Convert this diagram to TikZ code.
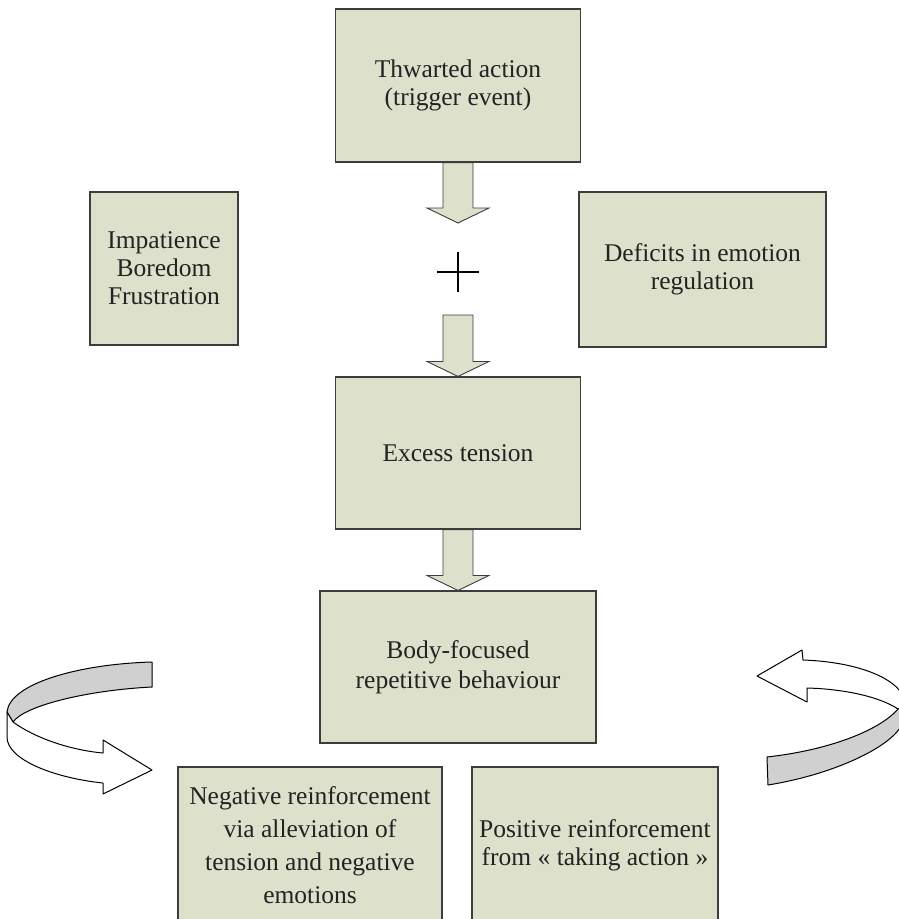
\documentclass[tikz,border=0pt]{standalone}
\usepackage{fontspec}
\setmainfont{Liberation Serif}
\usetikzlibrary{calc}
\definecolor{boxfill}{RGB}{221,224,203}
\definecolor{boxline}{RGB}{60,60,60}
\definecolor{txt}{RGB}{35,35,35}
\definecolor{bandgray}{RGB}{208,208,208}
\newcommand\blockarrow[2]{\draw[blockarr] let \p1=(#1), \p2=(#2) in
  (\x1-15pt,\y1) -- (\x1-15pt,\y2+15pt) -- (\x1-31pt,\y2+15pt) -- (\x2,\y2) --
  (\x1+31pt,\y2+15pt) -- (\x1+15pt,\y2+15pt) -- (\x1+15pt,\y1) -- cycle;}
\begin{document}
\begin{tikzpicture}[x=1pt,y=-1pt,
  box/.style={draw=boxline, line width=1.1pt, fill=boxfill, text=txt, align=center,
    inner sep=0pt, font=\fontsize{25.5}{28}\selectfont},
  blockarr/.style={draw=boxline, line width=0.9pt, fill=boxfill, line join=miter},
  bandline/.style={draw=black, line width=1pt, line join=round}]
\useasboundingbox (0,0) rectangle (898,919);

% boxes
\node[box, minimum width=245pt, minimum height=153pt] (thw) at (458,85.5) {Thwarted action\\(trigger event)};
\node[box, minimum width=148pt, minimum height=153pt] (imp) at (164,268.5) {Impatience\\Boredom\\Frustration};
\node[box, minimum width=247pt, minimum height=155pt] (def) at (702.5,269.5) {Deficits in emotion\\regulation};
\node[box, minimum width=245pt, minimum height=152pt] (exc) at (458,453) {Excess tension};
\node[box, minimum width=276pt, minimum height=152pt, font=\fontsize{25.5}{30}\selectfont] (body) at (458,667) {Body-focused\\repetitive behaviour};
\node[box, minimum width=264pt, minimum height=156pt, font=\fontsize{25.5}{33}\selectfont] (neg) at (310,845) {Negative reinforcement\\via alleviation of\\tension and negative\\emotions};
\node[box, minimum width=246pt, minimum height=156pt] (pos) at (595,845) {Positive reinforcement\\from «~taking action~»};

% plus sign and block arrows
\coordinate (plusc) at (458,272);
\coordinate (a1e) at (458,223);
\coordinate (a2s) at (458,315);
\blockarrow{thw.south}{a1e}
\blockarrow{a2s}{exc.north}
\blockarrow{exc.south}{body.north}
\draw[line width=2pt] ($(plusc)+(-21,0)$) -- ($(plusc)+(21,0)$);
\draw[line width=2pt] ($(plusc)+(0,-20)$) -- ($(plusc)+(0,20)$);

% left curved arrow
\path[bandline, fill=bandgray] (152,662) -- (152,687) .. controls (90,690) and (25,705) .. (13,722)
  -- (7,712) .. controls (10,683) and (80,664) .. (152,662) -- cycle;
\path[bandline, fill=white] (13,722) .. controls (35,738) and (70,750) .. (103,753)
  -- (103,740) -- (152,770) -- (103,794) -- (103,783)
  .. controls (55,778) and (7,760) .. (7,737) -- (7,712) -- cycle;

% right curved arrow
\path[bandline, fill=white] (807,688) .. controls (845,689) and (880,697) .. (898,709)
  -- (906,705) .. controls (904,680) and (860,662) .. (803,660)
  -- (802,650) -- (757,676) -- (807,702) -- cycle;
\path[bandline, fill=bandgray] (898,709) .. controls (880,730) and (830,750) .. (767,757)
  -- (768,785) .. controls (830,775) and (885,750) .. (900,728)
  -- (906,712) -- (906,705) -- cycle;
\end{tikzpicture}
\end{document}
